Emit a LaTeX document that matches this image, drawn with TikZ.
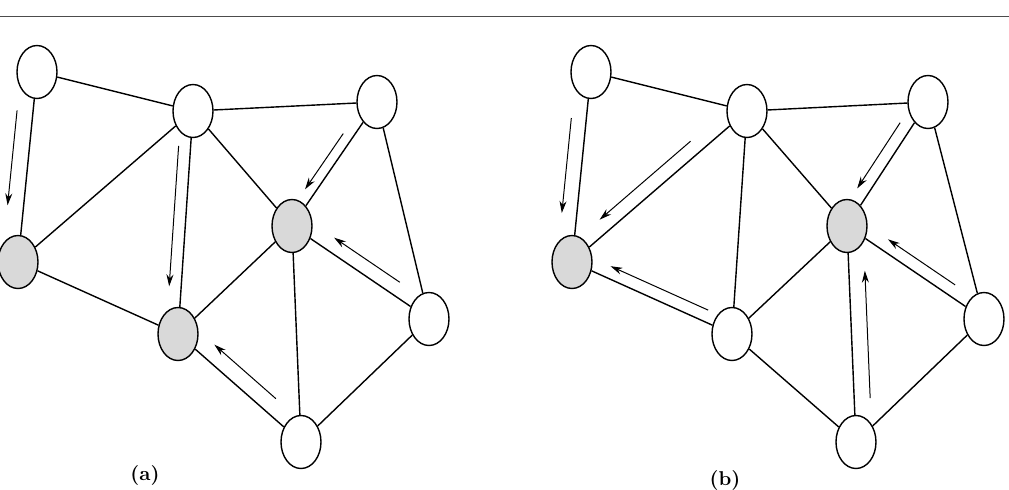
\documentclass[tikz,border=0pt]{standalone}
\usepackage{tikz}
\usetikzlibrary{shapes.geometric, arrows.meta, calc}

\tikzset{
  vert/.style={draw, ellipse, line width=.7pt, minimum width=20pt, minimum height=26.5pt, inner sep=0pt, fill=white},
  marked/.style={vert, fill=gray!30},
  edge/.style={line width=.7pt},
  flow/.style={line width=.5pt, -{Stealth[length=6pt,width=3.5pt]}},
}

\begin{document}
\begin{tikzpicture}[x=.5pt, y=-.5pt]
        \useasboundingbox (0,0) rectangle (1009,489);
        \draw [line width=.8pt, black!70] (0,16.5) -- (1009,16.5);
        % (a)
        \node (a1) [vert] at (37,72) {};
        \node (a2) [marked] at (18,262) {};
        \node (a3) [vert] at (193,111) {};
        \node (a4) [vert] at (377,102) {};
        \node (a5) [marked] at (292,226) {};
        \node (a6) [marked] at (178,334) {};
        \node (a7) [vert] at (429,319) {};
        \node (a8) [vert] at (301,442) {};
        \node (la) at (145,475) {\textbf{(a)}};
        \draw [edge] (a1) -- (a3) (a1) -- (a2) (a3) -- (a4) (a3) -- (a2)
              (a3) -- (a6) (a3) -- (a5) (a4) -- (a5) (a4) -- (a7)
              (a2) -- (a6) (a6) -- (a5) (a5) -- (a8) (a5) -- (a7)
              (a6) -- (a8) (a8) -- (a7);
        \draw [flow] ($(a1)!.21!(a2)!8pt!-90:(a2)$) -- ($(a1)!.71!(a2)!8pt!-90:(a2)$);
        \draw [flow] ($(a3)!.16!(a6)!6pt!-90:(a6)$) -- ($(a3)!.79!(a6)!6pt!-90:(a6)$);
        \draw [flow] ($(a4)!.30!(a5)!5pt!-90:(a5)$) -- ($(a4)!.75!(a5)!5pt!-90:(a5)$);
        \draw [flow] ($(a7)!.27!(a5)!7pt!-90:(a5)$) -- ($(a7)!.75!(a5)!7pt!-90:(a5)$);
        \draw [flow] ($(a8)!.29!(a6)!8pt!-90:(a6)$) -- ($(a8)!.79!(a6)!8pt!-90:(a6)$);
        % (b)
        \node (b1) [vert] at (591,72) {};
        \node (b2) [marked] at (572,262) {};
        \node (b3) [vert] at (747,111) {};
        \node (b4) [vert] at (928,102) {};
        \node (b5) [marked] at (847,226) {};
        \node (b6) [vert] at (732,334) {};
        \node (b7) [vert] at (984,319) {};
        \node (b8) [vert] at (856,442) {};
        \node (lb) at (725,480) {\textbf{(b)}};
        \draw [edge] (b1) -- (b3) (b1) -- (b2) (b3) -- (b4) (b3) -- (b2)
              (b3) -- (b6) (b3) -- (b5) (b4) -- (b5) (b4) -- (b7)
              (b2) -- (b6) (b6) -- (b5) (b5) -- (b8) (b5) -- (b7)
              (b6) -- (b8) (b8) -- (b7);
        \draw [flow] ($(b1)!.25!(b2)!7.5pt!-90:(b2)$) -- ($(b1)!.75!(b2)!7.5pt!-90:(b2)$);
        \draw [flow] ($(b3)!.27!(b2)!7pt!-90:(b2)$) -- ($(b3)!.79!(b2)!7pt!-90:(b2)$);
        \draw [flow] ($(b4)!.22!(b5)!6pt!-90:(b5)$) -- ($(b4)!.75!(b5)!6pt!-90:(b5)$);
        \draw [flow] ($(b7)!.26!(b5)!6pt!-90:(b5)$) -- ($(b7)!.75!(b5)!6pt!-90:(b5)$);
        \draw [flow] ($(b6)!.18!(b2)!6pt!-90:(b2)$) -- ($(b6)!.79!(b2)!6pt!-90:(b2)$);
        \draw [flow] ($(b8)!.20!(b5)!8pt!-90:(b5)$) -- ($(b8)!.79!(b5)!8pt!-90:(b5)$);
\end{tikzpicture}
\end{document}
